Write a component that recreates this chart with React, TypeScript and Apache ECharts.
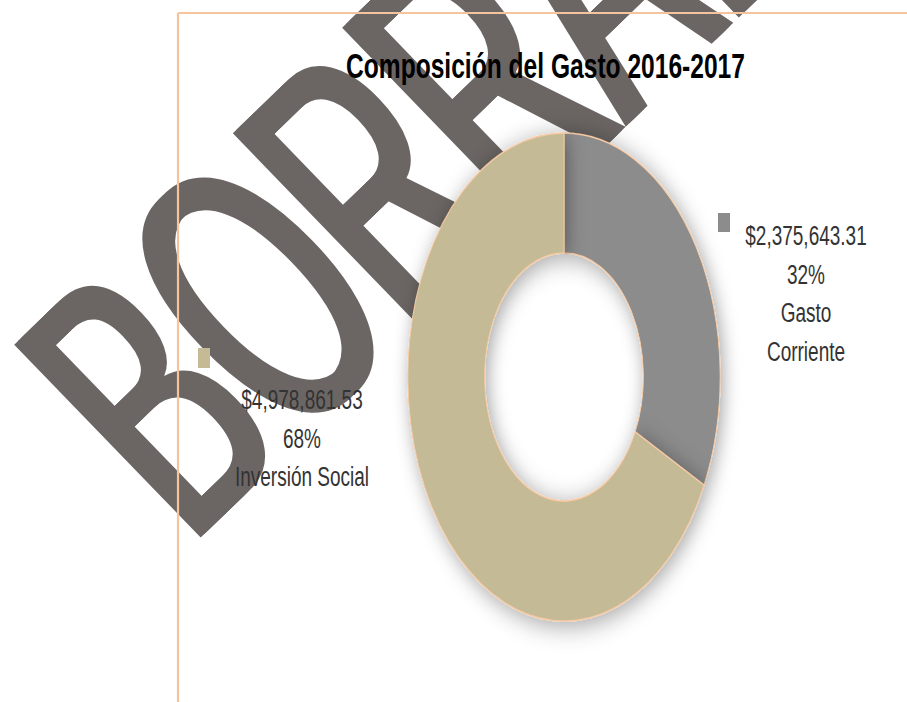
import React, { useEffect, useRef } from 'react';
import * as echarts from 'echarts';

const titleText = 'Composición del Gasto 2016-2017';
const categories = ['Gasto Corriente', 'Inversión Social'];
const values = [2375643.31, 4978861.53];
const nameLines = [['Gasto', 'Corriente'], ['Inversión Social']];
const sliceColors = ['#8c8c8c', '#c4bb96'];
const watermarkText = 'BORRADOR';

const PIE_CX = 563.5;
const PIE_CY = 377;
const PIE_BOX = 560;

export default function App() {
  const wmRef = useRef<HTMLDivElement>(null);
  const bgRef = useRef<HTMLDivElement>(null);
  const pieRef = useRef<HTMLDivElement>(null);

  useEffect(() => {
    const wm = echarts.init(wmRef.current!, null, { renderer: 'svg' });
    const bg = echarts.init(bgRef.current!, null, { renderer: 'svg' });
    const pie = echarts.init(pieRef.current!, null, { renderer: 'svg' });
    const total = values.reduce((a, b) => a + b, 0);
    const fmt = (v: number) =>
      '$' + v.toLocaleString('en-US', { minimumFractionDigits: 2, maximumFractionDigits: 2 });

    // watermark layer (bottom)
    const wmCopies = [0, 5, 10].map((d) => ({
      type: 'text',
      x: d,
      y: 0,
      scaleX: 0.54,
      style: {
        text: watermarkText,
        fill: '#6b6664',
        fontSize: 390,
        fontFamily: '"Liberation Sans", Arial, sans-serif',
        textAlign: 'left',
        textVerticalAlign: 'middle',
      },
    }));
    wm.setOption({
      animation: false,
      backgroundColor: '#ffffff',
      graphic: [
        {
          type: 'group',
          x: 94,
          y: 452,
          rotation: (44 * Math.PI) / 180,
          children: wmCopies,
        },
      ],
    });

    const labelPos = [
      { x: 806, y: 236, mx: 718, my: 213, mh: 19 },
      { x: 302, y: 400, mx: 198, my: 348, mh: 20 },
    ];
    const labelGraphics: any[] = [];
    categories.forEach((c, i) => {
      const lines = [fmt(values[i]), Math.round((values[i] / total) * 100) + '%', ...nameLines[i]];
      const p = labelPos[i];
      labelGraphics.push({
        type: 'rect',
        shape: { x: p.mx, y: p.my, width: 12, height: p.mh },
        style: { fill: sliceColors[i] },
      });
      lines.forEach((t, j) =>
        labelGraphics.push({
          type: 'text',
          x: p.x,
          y: p.y + j * 38.5,
          scaleY: 1.42,
          style: {
            text: t,
            fill: '#333333',
            fontSize: 19,
            fontFamily: '"Liberation Sans", Arial, sans-serif',
            textAlign: 'center',
            textVerticalAlign: 'middle',
          },
        })
      );
    });

    bg.setOption({
      animation: false,
      backgroundColor: 'transparent',
      graphic: [
        {
          type: 'line',
          shape: { x1: 178, y1: 13, x2: 907, y2: 13 },
          style: { stroke: '#f6c49c', lineWidth: 2.2 },
        },
        {
          type: 'line',
          shape: { x1: 178, y1: 13, x2: 178, y2: 702 },
          style: { stroke: '#f6c49c', lineWidth: 2.2 },
        },
        {
          type: 'text',
          x: 545.5,
          y: 66,
          scaleY: 1.4,
          style: {
            text: titleText,
            fill: '#000000',
            fontSize: 24.6,
            fontWeight: 'bold',
            fontFamily: '"Liberation Sans", Arial, sans-serif',
            textAlign: 'center',
            textVerticalAlign: 'middle',
          },
        },
        ...labelGraphics,
      ],
    });

    pie.setOption({
      animation: false,
      series: [
        {
          type: 'pie',
          center: ['50%', '50%'],
          radius: [124, 244],
          startAngle: 90,
          clockwise: true,
          silent: true,
          label: { show: false },
          labelLine: { show: false },
          emphasis: { disabled: true },
          itemStyle: {
            borderColor: '#f7caa4',
            borderWidth: 1.5,
            shadowBlur: 26,
            shadowColor: 'rgba(0,0,0,0.36)',
            shadowOffsetX: 4,
            shadowOffsetY: 4,
          },
          data: categories.map((c, i) => ({
            name: c,
            value: values[i],
            itemStyle: { color: sliceColors[i] },
          })),
        },
      ],
    });

    return () => {
      wm.dispose();
      bg.dispose();
      pie.dispose();
    };
  }, []);

  return (
    <div
      style={{
        position: 'fixed',
        left: 0,
        top: 0,
        width: 907,
        height: 702,
        overflow: 'hidden',
        background: '#fff',
      }}
    >
      <div ref={wmRef} style={{ position: 'absolute', left: 0, top: 0, width: 907, height: 702 }} />
      <div ref={bgRef} style={{ position: 'absolute', left: 0, top: 0, width: 907, height: 702 }} />
      <div
        ref={pieRef}
        style={{
          position: 'absolute',
          left: PIE_CX - PIE_BOX / 2,
          top: PIE_CY - PIE_BOX / 2,
          width: PIE_BOX,
          height: PIE_BOX,
          transform: 'scaleX(0.64)',
          transformOrigin: '50% 50%',
        }}
      />
    </div>
  );
}
